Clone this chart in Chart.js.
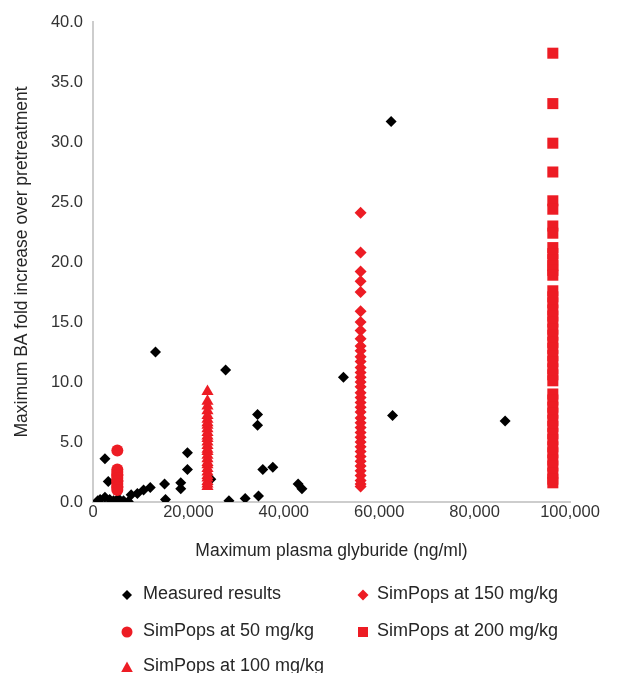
<!DOCTYPE html>
<html><head><meta charset="utf-8">
<script src="https://cdn.jsdelivr.net/npm/chart.js@4/dist/chart.umd.min.js"></script>
<style>
html,body{margin:0;padding:0;background:#fff;width:640px;height:673px;overflow:hidden;font-family:"Liberation Sans",Arial,sans-serif;}
#wrap{position:absolute;left:0;top:0;width:640px;height:570px;}
#legend{position:absolute;left:0;top:0;width:640px;height:673px;}
.item{position:absolute;font-size:18px;color:#262626;line-height:20px;white-space:nowrap;}
.mk{position:absolute;}
</style></head>
<body>
<div id="wrap"><canvas id="c" width="640" height="570"></canvas></div>
<div id="legend"></div>
<script>
// ---- data ----
const seriesNames = ["Measured results","SimPops at 50 mg/kg","SimPops at 100 mg/kg","SimPops at 150 mg/kg","SimPops at 200 mg/kg"];
const xTicks = [0,20000,40000,60000,80000,100000];
const yTicks = [0,5,10,15,20,25,30,35,40];

const measuredX = [13100,27800,34500,34500,19800,19800,35600,37700,2500,3200,18400,18400,15000,15200,12000,10600,9300,28500,31900,34700,43000,43800,24700,1000,1500,2500,3500,4300,5300,6400,7400,8000,52500,62500,62800,86400];
const measuredY = [12.5,11.0,7.3,6.4,4.1,2.7,2.7,2.9,3.6,1.7,1.6,1.1,1.5,0.2,1.2,1.0,0.7,0.1,0.3,0.5,1.5,1.1,1.9,0.1,0.2,0.4,0.2,0.1,0.3,0.1,0.05,0.6,10.4,31.7,7.2,6.75];

const sim50X = 5100;
const sim50Y = [4.3,2.7,2.5,2.3,2.2,2.0,1.8,1.7,1.5,1.3,1.2,1.0];

const sim100X = 24000;
const sim100Y = [9.2,8.4,8.0,7.6,7.2,6.9,6.6,6.4,6.1,5.8,5.5,5.3,5.0,4.7,4.4,4.2,3.9,3.6,3.3,3.1,2.8,2.5,2.2,2.0,1.7,1.5,1.3];

const sim150X = 56100;
const sim150Y = [24.1,20.8,19.2,18.4,17.5,15.9,15.0,14.3,13.6,13.0,12.6,12.1,11.7,11.2,10.8,10.4,10.0,9.6,9.1,8.7,8.3,7.9,7.5,7.0,6.6,6.2,5.8,5.4,5.0,4.6,4.2,3.8,3.4,3.0,2.6,2.2,1.8,1.5,1.3];

const sim200X = 96400;
const sim200Y = [37.4,33.2,29.9,27.5,25.1,24.4,23.0,22.4,21.2,20.7,20.2,19.7,19.3,18.9,17.6,17.1,16.6,16.0,15.5,15.0,14.4,13.9,13.3,12.8,12.2,11.7,11.1,10.6,10.1,9.0,8.5,7.9,7.4,6.8,6.3,5.7,5.2,4.6,4.1,3.5,3.0,2.4,1.9,1.6];

// ---- styles ----
const RED = '#ED1C24', BLACK = '#000000';
const styles = [
  {color:BLACK, style:'rectRot', r:5.5, order:5},
  {color:RED, style:'circle', r:6, order:4},
  {color:RED, style:'triangle', r:7, order:3},
  {color:RED, style:'rectRot', r:6, order:2},
  {color:RED, style:'rect', r:7.8, order:1}
];

const pts = [
  measuredX.map((x,i)=>({x:x,y:measuredY[i]})),
  sim50Y.map(y=>({x:sim50X,y:y})),
  sim100Y.map(y=>({x:sim100X,y:y})),
  sim150Y.map(y=>({x:sim150X,y:y})),
  sim200Y.map(y=>({x:sim200X,y:y}))
];

const datasets = pts.map((d,i)=>({
  label: seriesNames[i],
  data: d,
  pointStyle: styles[i].style,
  pointRadius: styles[i].r,
  pointHoverRadius: styles[i].r,
  backgroundColor: styles[i].color,
  borderColor: styles[i].color,
  borderWidth: 0,
  order: styles[i].order
}));

const tickColor = '#333333';
const axisColor = '#cdcdcd';

new Chart(document.getElementById('c'), {
  type: 'scatter',
  data: {datasets},
  options: {
    responsive: false,
    animation: false,
    devicePixelRatio: 1,
    layout: {padding: {left: 10, right: 70, top: 22, bottom: 8}},
    plugins: {legend: {display: false}, tooltip: {enabled: false}},
    scales: {
      x: {
        type: 'linear', min: 0, max: 100000,
        afterBuildTicks: s => { s.ticks = xTicks.map(v=>({value:v})); },
        afterFit: s => { s.height = 60; },
        ticks: {
          callback: v => v.toLocaleString('en-US'),
          font: {family: '"Liberation Sans", Arial', size: 16.5},
          color: tickColor, padding: 1, maxRotation: 0, autoSkip: false
        },
        grid: {color: 'rgba(0,0,0,0)', drawTicks: false},
        border: {display: true, color: axisColor, width: 2},
        title: {display: true, text: 'Maximum plasma glyburide (ng/ml)',
          font: {family: '"Liberation Sans", Arial', size: 17.5}, color: '#262626', padding: {top: 0, bottom: 0}}
      },
      y: {
        type: 'linear', min: 0, max: 40,
        afterBuildTicks: s => { s.ticks = yTicks.map(v=>({value:v})); },
        afterFit: s => { s.width = 83; },
        ticks: {
          callback: v => v.toFixed(1),
          font: {family: '"Liberation Sans", Arial', size: 16.5},
          color: tickColor, padding: 10
        },
        grid: {color: 'rgba(0,0,0,0)', drawTicks: false},
        border: {display: true, color: axisColor, width: 2},
        title: {display: true, text: 'Maximum BA fold increase over pretreatment',
          font: {family: '"Liberation Sans", Arial', size: 17.5}, color: '#262626', padding: {top: 2, bottom: 0}}
      }
    }
  }
});

// ---- legend (HTML, real text) ----
const legendPos = [
  {mx:127, tx:143, y:593},
  {mx:127, tx:143, y:630},
  {mx:127, tx:143, y:665},
  {mx:363, tx:377, y:593},
  {mx:363, tx:377, y:630}
];
function markerSVG(i){
  const c = styles[i].color;
  const s = styles[i].style;
  let shape;
  if (s==='rectRot' && i===0) shape = `<polygon points="6,1 11,6 6,11 1,6" fill="${c}"/>`;
  else if (s==='rectRot') shape = `<polygon points="6,0.5 11.5,6 6,11.5 0.5,6" fill="${c}"/>`;
  else if (s==='circle') shape = `<circle cx="6" cy="6" r="5.5" fill="${c}"/>`;
  else if (s==='triangle') shape = `<polygon points="6,0.5 11.8,11 0.2,11" fill="${c}"/>`;
  else shape = `<rect x="1" y="1" width="10" height="10" fill="${c}"/>`;
  return `<svg width="12" height="12" viewBox="0 0 12 12">${shape}</svg>`;
}
const leg = document.getElementById('legend');
legendPos.forEach((p,i)=>{
  const m = document.createElement('div');
  m.className = 'mk';
  m.style.left = (p.mx-6)+'px';
  m.style.top = (p.y-6)+'px';
  m.innerHTML = markerSVG(i);
  leg.appendChild(m);
  const t = document.createElement('div');
  t.className = 'item';
  t.style.left = p.tx+'px';
  t.style.top = (p.y-10)+'px';
  t.textContent = seriesNames[i];
  leg.appendChild(t);
});
</script>
</body></html>
